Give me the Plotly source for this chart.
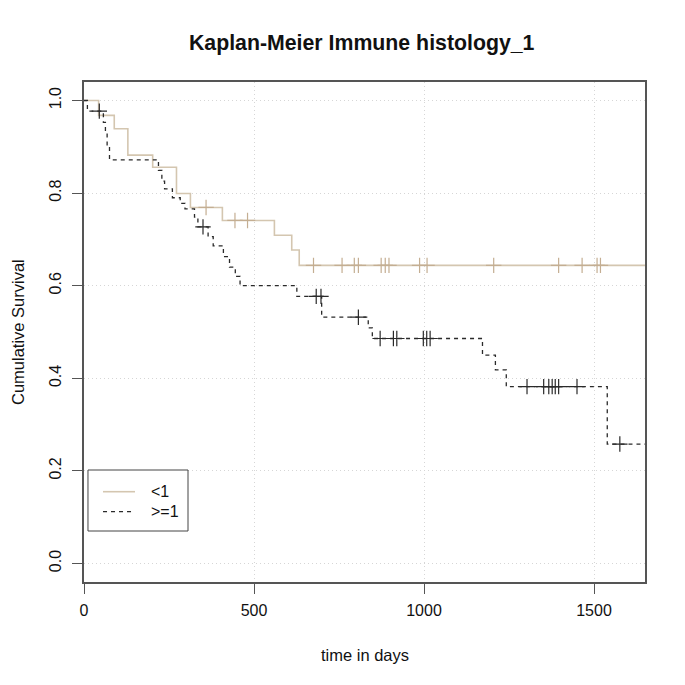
import numpy as np
import plotly.graph_objects as go

# ---------------- data ----------------
followup_end = 1650

# group "<1"
lt1_times = [0, 43, 89, 129, 202, 272, 313, 407, 560, 611, 633]
lt1_surv = [1.0, 0.968, 0.939, 0.882, 0.856, 0.799, 0.769, 0.741, 0.709, 0.677, 0.644]
lt1_censor = [359, 444, 481, 675, 759, 795, 807, 874, 886, 897, 987, 1009,
              1205, 1396, 1465, 1509, 1519]

# group ">=1"
ge1_times = [0, 10, 57, 63, 68, 75, 219, 229, 237, 260, 283, 297, 325, 335,
             365, 380, 410, 428, 445, 459, 626, 699, 836, 848, 1172, 1210,
             1242, 1539]
ge1_surv = [1.0, 0.977, 0.953, 0.930, 0.900, 0.872, 0.849, 0.826, 0.809,
            0.790, 0.778, 0.766, 0.748, 0.727, 0.706, 0.686, 0.663, 0.640,
            0.620, 0.600, 0.577, 0.532, 0.509, 0.486, 0.450, 0.418, 0.382,
            0.258]
ge1_censor = [45, 350, 683, 697, 807, 871, 910, 920, 998, 1008, 1018, 1303,
              1352, 1367, 1377, 1386, 1396, 1450, 1576]

group_names = ["<1", ">=1"]
x_ticks = [0, 500, 1000, 1500]
y_ticks = [0.0, 0.2, 0.4, 0.6, 0.8, 1.0]
y_tick_text = ["0.0", "0.2", "0.4", "0.6", "0.8", "1.0"]

title_text = "Kaplan-Meier Immune histology_1"
x_title = "time in days"
y_title = "Cumulative Survival"

# ---------------- helpers ----------------
def step_xy(times, surv, end):
    return list(times) + [end], list(surv) + [surv[-1]]

def surv_at(times, surv, t):
    idx = np.searchsorted(np.asarray(times), np.asarray(t), side="right") - 1
    return [surv[i] for i in idx]

TAN_LINE = "#d4c6b0"
TAN_MARK = "#c4ae92"
BLK = "#2a2a2a"
FONT = "Liberation Sans, Arial, Helvetica, sans-serif"
TXT = "#111"

W, H = 677, 677  # page body adds an 8px margin inside the 685px window

fig = go.Figure()

x1, y1 = step_xy(lt1_times, lt1_surv, followup_end)
x2, y2 = step_xy(ge1_times, ge1_surv, followup_end)

fig.add_trace(go.Scatter(x=x1, y=y1, mode="lines", line_shape="hv",
                         name=group_names[0], showlegend=False,
                         line=dict(color=TAN_LINE, width=1.6)))
fig.add_trace(go.Scatter(x=x2, y=y2, mode="lines", line_shape="hv",
                         name=group_names[1], showlegend=False,
                         line=dict(color=BLK, width=1.3, dash="4px,4px")))

fig.add_trace(go.Scatter(x=lt1_censor, y=surv_at(lt1_times, lt1_surv, lt1_censor),
                         mode="markers", showlegend=False,
                         marker=dict(symbol="cross-thin", size=11,
                                     line=dict(color=TAN_MARK, width=1.2))))
fig.add_trace(go.Scatter(x=ge1_censor, y=surv_at(ge1_times, ge1_surv, ge1_censor),
                         mode="markers", showlegend=False,
                         marker=dict(symbol="cross-thin", size=11,
                                     line=dict(color=BLK, width=1.2))))

axis_common = dict(showline=True, mirror=True, linecolor="#555", linewidth=1.5,
                   ticks="outside", ticklen=10, tickcolor="#555", tickwidth=1,
                   showgrid=True, gridcolor="#d6d6d6", griddash="1px,3px",
                   gridwidth=1, zeroline=False,
                   tickfont=dict(family=FONT, size=16, color=TXT))

fig.update_xaxes(range=[0, followup_end], tickvals=x_ticks,
                 ticklabelstandoff=3, **axis_common)
fig.update_yaxes(range=[-0.04, 1.04], tickvals=y_ticks, ticktext=y_tick_text,
                 tickangle=-90, ticklabelstandoff=5, **axis_common)

# manual legend (paper coordinates of the plot area)
leg_box = dict(x0=0.0071, x1=0.1854, y0=0.102, y1=0.224)
leg_line_x = (0.0339, 0.0909)
leg_rows_y = [0.1806, 0.1406]
leg_text_x = 0.1159

shapes = [dict(type="rect", xref="paper", yref="paper",
               line=dict(color="#444", width=1), fillcolor="white", **leg_box)]
shapes.append(dict(type="line", xref="paper", yref="paper",
                   x0=leg_line_x[0], x1=leg_line_x[1],
                   y0=leg_rows_y[0], y1=leg_rows_y[0],
                   line=dict(color=TAN_LINE, width=1.6)))
shapes.append(dict(type="line", xref="paper", yref="paper",
                   x0=leg_line_x[0], x1=leg_line_x[1],
                   y0=leg_rows_y[1], y1=leg_rows_y[1],
                   line=dict(color=BLK, width=1.3, dash="4px,4px")))

annotations = [
    dict(text=x_title, xref="paper", yref="paper", x=0.5, y=-0.146,
         xanchor="center", yanchor="middle", showarrow=False,
         font=dict(family=FONT, size=16.5, color=TXT)),
    dict(text=y_title, xref="paper", yref="paper", x=-0.1176, y=0.5,
         xanchor="center", yanchor="middle", textangle=-90, showarrow=False,
         font=dict(family=FONT, size=16.5, color=TXT)),
]
for name, yy in zip(group_names, leg_rows_y):
    annotations.append(dict(text=name.replace("<", "&lt;").replace(">", "&gt;"),
                            xref="paper", yref="paper",
                            x=leg_text_x, y=yy, xanchor="left", yanchor="middle",
                            showarrow=False,
                            font=dict(family=FONT, size=16, color=TXT)))

fig.update_layout(
    width=W, height=H,
    plot_bgcolor="white", paper_bgcolor="white",
    margin=dict(l=76, r=40, t=74, b=103, autoexpand=False),
    title=dict(text="<b>" + title_text + "</b>", xref="paper", x=0.495,
               xanchor="center", y=1 - 35 / H, yanchor="middle",
               font=dict(family=FONT, size=21.3, color=TXT)),
    showlegend=False,
    shapes=shapes,
    annotations=annotations,
)

fig.write_html("out.html")
